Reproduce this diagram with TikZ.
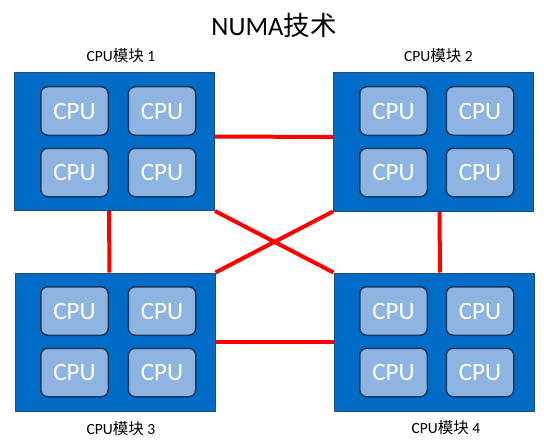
\documentclass[tikz,border=0pt]{standalone}
\usepackage{fontspec}
\setmainfont{Carlito}
\newfontfamily\cjk{Noto Sans CJK SC}
\usetikzlibrary{backgrounds}
\definecolor{modblue}{RGB}{0,108,200}
\definecolor{modedge}{RGB}{31,78,121}
\definecolor{cpufill}{RGB}{142,180,226}
\definecolor{cpuedge}{RGB}{23,55,94}
\tikzset{
	module/.style={draw=modedge, line width=1pt, fill=modblue, minimum width=200pt, minimum height=138pt, inner sep=0pt},
	cpu/.style={draw=cpuedge, line width=1.5pt, fill=cpufill, rounded corners=7pt, minimum width=67.5pt, minimum height=48.5pt, inner sep=0pt, text=white, font=\fontsize{25}{25}\selectfont},
	caption/.style={font=\fontsize{15.5}{16}\selectfont},
	link/.style={red, line width=4pt}
}
\begin{document}
\begin{tikzpicture}[x=1pt,y=-1pt]
			\useasboundingbox (0,0) rectangle (544,444);
			\node at (274,25) (title) {\fontsize{26.5}{27}\selectfont NUMA{\cjk 技术}};
			\node[module] at (114.5,141.5) (m1) {};
			\node[module] at (433.5,142) (m2) {};
			\node[module] at (115,342) (m3) {};
			\node[module] at (434,342) (m4) {};
			\node[cpu] at (74.5,111) (c11) {CPU};
			\node[cpu] at (162,111) (c12) {CPU};
			\node[cpu] at (74.5,172.5) (c13) {CPU};
			\node[cpu] at (162,172.5) (c14) {CPU};
			\node[cpu] at (393.5,111) (c21) {CPU};
			\node[cpu] at (480,111) (c22) {CPU};
			\node[cpu] at (393.5,172.5) (c23) {CPU};
			\node[cpu] at (480,172.5) (c24) {CPU};
			\node[cpu] at (74.5,311) (c31) {CPU};
			\node[cpu] at (162,311) (c32) {CPU};
			\node[cpu] at (74.5,372.5) (c33) {CPU};
			\node[cpu] at (162,372.5) (c34) {CPU};
			\node[cpu] at (393.5,311) (c41) {CPU};
			\node[cpu] at (480,311) (c42) {CPU};
			\node[cpu] at (393.5,372.5) (c43) {CPU};
			\node[cpu] at (480,372.5) (c44) {CPU};
			\node[caption] at (121,56) (l1) {CPU{\cjk 模块} 1};
			\node[caption] at (438.5,56) (l2) {CPU{\cjk 模块} 2};
			\node[caption] at (121,429) (l3) {CPU{\cjk 模块} 3};
			\node[caption] at (446,428) (l4) {CPU{\cjk 模块} 4};
			\begin{pgfonlayer}{background}
			\draw[link] ([yshift=5pt]m1.east)--([yshift=5pt]m2.west);
			\draw[link] (m3.east)--(m4.west);
			\draw[link] ([xshift=-5.5pt]m1.south)--([xshift=-5.5pt]m3.north);
			\draw[link] ([xshift=6pt]m2.south)--([xshift=6pt]m4.north);
			\draw[link] (m1.south east)--(m4.north west);
			\draw[link] (m2.south west)--(m3.north east);
			\end{pgfonlayer}
		\end{tikzpicture}
\end{document}
